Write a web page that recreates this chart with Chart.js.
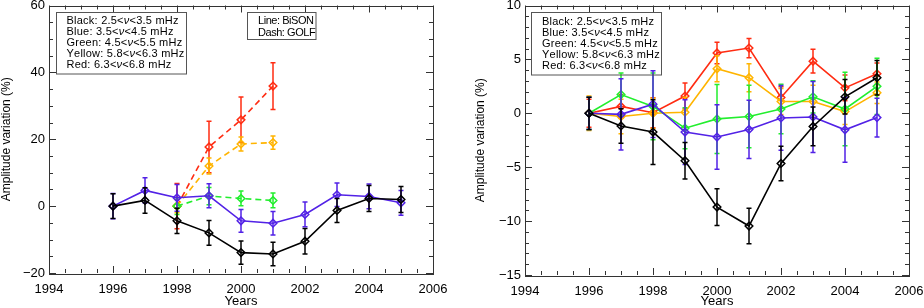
<!DOCTYPE html>
<html>
<head>
<meta charset="utf-8">
<script src="https://cdn.jsdelivr.net/npm/chart.js@4.4.1/dist/chart.umd.min.js"></script>
<style>
html, body { margin: 0; padding: 0; background: #fff; }
#wrap { position: relative; width: 924px; height: 308px; }
canvas { position: absolute; top: 0; }
</style>
</head>
<body>
<div id="wrap">
  <canvas id="leftChart" width="462" height="308" style="left:0"></canvas>
  <canvas id="rightChart" width="462" height="308" style="left:462px"></canvas>
</div>
<script>
// ---- data ----
var years = [1996, 1997, 1998, 1999, 2000, 2001, 2002, 2003, 2004, 2005];
var golfYears = [1998, 1999, 2000, 2001];

// left panel: BiSON (solid) and GOLF (dashed)
var leftBlack     = [0, 1.7, -4.4, -8.0, -13.9, -14.3, -10.5, -1.3, 2.3, 2.0];
var leftBlackErr  = [3.7, 3.8, 3.8, 3.7, 3.5, 3.5, 3.8, 3.6, 3.9, 3.9];
var leftBlue      = [0, 4.7, 2.5, 3.1, -4.4, -5.1, -2.5, 3.4, 2.9, 1.0];
var leftBlueErr   = [3.8, 3.8, 4.0, 3.6, 3.4, 3.5, 3.7, 3.5, 3.7, 3.7];
var golfGreen     = [0, 3.0, 2.3, 1.7];
var golfGreenErr  = [2.5, 2.6, 2.2, 2.2];
var golfYellow    = [0, 12.0, 18.6, 19.0];
var golfYellowErr = [2.0, 2.4, 2.1, 2.0];
var golfRed       = [0, 17.7, 25.8, 35.9];
var golfRedErr    = [6.8, 7.7, 6.8, 7.0];

// right panel
var rightBlack     = [0, -1.17, -1.74, -4.4, -8.7, -10.46, -4.65, -1.22, 1.53, 3.3];
var rightBlackErr  = [1.5, 1.6, 3.0, 1.7, 1.7, 1.65, 1.6, 1.8, 1.6, 1.6];
var rightBlue      = [0, -0.1, 0.85, -1.74, -2.2, -1.5, -0.43, -0.34, -1.53, -0.4];
var rightBlueErr   = [1.5, 3.3, 3.1, 3.0, 3.0, 2.7, 3.0, 3.3, 3.0, 1.8];
var rightGreen     = [0, 1.74, 0.64, -1.38, -0.52, -0.3, 0.4, 1.53, 0.4, 2.5];
var rightGreenErr  = [1.5, 2.0, 3.1, 1.9, 3.2, 2.9, 2.3, 1.5, 3.4, 2.6];
var rightYellow    = [0, -0.3, 0, 0.1, 4.13, 3.3, 1.1, 1.1, 0.16, 1.9];
var rightYellowErr = [1.6, 1.6, 1.4, 1.4, 1.2, 1.3, 1.2, 1.5, 1.2, 1.0];
var rightRed       = [0, 0.64, 0.05, 1.6, 5.6, 6.05, 1.47, 4.83, 2.36, 3.67];
var rightRedErr    = [1.3, 1.1, 1.4, 1.2, 1.0, 0.9, 1.0, 1.1, 1.2, 1.0];

var bandLines = [
    ['Black: 2.5<', 'ν', '<3.5 mHz'],
    ['Blue: 3.5<', 'ν', '<4.5 mHz'],
    ['Green: 4.5<', 'ν', '<5.5 mHz'],
    ['Yellow: 5.8<', 'ν', '<6.3 mHz'],
    ['Red: 6.3<', 'ν', '<6.8 mHz']
];
var instrumentLines = [['Line: BiSON'], ['Dash: GOLF']];

var COLORS = {
    black: '#000000',
    blue: '#5222e6',
    green: '#22ee2e',
    yellow: '#ffb400',
    red: '#ff2c12'
};
var FONT = '"Liberation Sans", Arial, sans-serif';

function points(xs, ys) {
    return xs.map(function (x, i) { return {x: x, y: ys[i]}; });
}

function series(xs, ys, errs, color, dashed) {
    return {
        data: points(xs, ys),
        errors: errs,
        borderColor: color,
        backgroundColor: 'rgba(0,0,0,0)',
        borderWidth: 1.6,
        borderDash: dashed ? [6, 4] : [],
        pointStyle: 'rectRot',
        pointRadius: 3.8,
        pointBorderWidth: 1.5,
        pointBackgroundColor: 'rgba(0,0,0,0)',
        pointBorderColor: color,
        tension: 0
    };
}

// vertical error bars with small caps, drawn under each dataset
var errorBarPlugin = {
    id: 'errorBars',
    beforeDatasetDraw: function (chart, args) {
        var ds = chart.data.datasets[args.index];
        if (!ds.errors) return;
        var ys = chart.scales.y, ctx = chart.ctx;
        ctx.save();
        ctx.strokeStyle = ds.borderColor;
        ctx.lineWidth = 1.5;
        ctx.setLineDash([]);
        ctx.beginPath();
        args.meta.data.forEach(function (pt, i) {
            var v = ds.data[i].y, e = ds.errors[i];
            var top = ys.getPixelForValue(v + e), bot = ys.getPixelForValue(v - e);
            ctx.moveTo(pt.x, top); ctx.lineTo(pt.x, bot);
            ctx.moveTo(pt.x - 2.5, top); ctx.lineTo(pt.x + 2.5, top);
            ctx.moveTo(pt.x - 2.5, bot); ctx.lineTo(pt.x + 2.5, bot);
        });
        ctx.stroke();
        ctx.restore();
    }
};

function isMajor(v, step) {
    return Math.abs(v / step - Math.round(v / step)) < 1e-6;
}

// box frame with inward ticks on all four sides
var framePlugin = {
    id: 'frame',
    afterDraw: function (chart, args, opts) {
        var ctx = chart.ctx, a = chart.chartArea;
        var xs = chart.scales.x, ys = chart.scales.y;
        ctx.save();
        ctx.strokeStyle = '#333';
        ctx.lineWidth = 1;
        ctx.strokeRect(Math.round(a.left) + 0.5, Math.round(a.top) + 0.5,
            Math.round(a.right - a.left), Math.round(a.bottom - a.top));
        ctx.beginPath();
        var v, p, len;
        for (v = xs.min; v <= xs.max + 1e-9; v += opts.xMinor) {
            p = Math.round(xs.getPixelForValue(v)) + 0.5;
            len = isMajor(v, opts.xMajor) ? 7 : 4;
            ctx.moveTo(p, a.bottom); ctx.lineTo(p, a.bottom - len);
            ctx.moveTo(p, a.top); ctx.lineTo(p, a.top + len);
        }
        for (v = ys.min; v <= ys.max + 1e-9; v += opts.yMinor) {
            p = Math.round(ys.getPixelForValue(v)) + 0.5;
            len = isMajor(v, opts.yMajor) ? 7 : 4;
            ctx.moveTo(a.left, p); ctx.lineTo(a.left + len, p);
            ctx.moveTo(a.right, p); ctx.lineTo(a.right - len, p);
        }
        ctx.stroke();
        ctx.restore();
    }
};

function partFont(j) {
    return (j === 1 ? 'italic ' : '') + '11px ' + FONT;
}

function naturalWidth(ctx, parts) {
    var w = 0, n = 0;
    parts.forEach(function (s, j) {
        ctx.font = partFont(j);
        w += ctx.measureText(s).width;
        n += s.length;
    });
    return {w: w, n: n};
}

// framed text boxes (legends); the middle part of each line is an italic nu.
// glyph tracking is chosen so the first line spans b.lineW pixels
var textBoxPlugin = {
    id: 'textBoxes',
    afterDraw: function (chart, args, opts) {
        var ctx = chart.ctx;
        ctx.save();
        opts.boxes.forEach(function (b) {
            ctx.strokeStyle = '#555';
            ctx.lineWidth = 1;
            ctx.strokeRect(b.x, b.y, b.w, b.h);
            ctx.fillStyle = '#000';
            ctx.textAlign = 'left';
            ctx.textBaseline = 'middle';
            var nat = naturalWidth(ctx, b.lines[0]);
            var track = (b.lineW - nat.w) / (nat.n - 1);
            b.lines.forEach(function (parts, i) {
                var x = b.textX, y = b.firstY + i * b.dy;
                parts.forEach(function (s, j) {
                    ctx.font = partFont(j);
                    for (var k = 0; k < s.length; k++) {
                        ctx.fillText(s[k], x, y);
                        x += ctx.measureText(s[k]).width + track;
                    }
                });
            });
        });
        ctx.restore();
    }
};

function makeOptions(cfg) {
    return {
        responsive: false,
        animation: false,
        devicePixelRatio: 1,
        layout: {padding: cfg.padding},
        plugins: {
            legend: {display: false},
            tooltip: {enabled: false},
            frame: cfg.frame,
            textBoxes: {boxes: cfg.boxes}
        },
        scales: {
            x: {
                type: 'linear',
                min: 1994, max: 2006,
                grid: {display: false, drawTicks: false},
                border: {display: false},
                ticks: {
                    stepSize: 2, padding: 9, color: '#000',
                    font: {family: FONT, size: 13},
                    callback: function (v) { return String(v); }
                },
                title: {display: true, text: 'Years', color: '#000',
                    font: {family: FONT, size: 13, lineHeight: 1}, padding: 0},
                afterFit: function (s) { s.height = cfg.xHeight; s.paddingLeft = 0; s.paddingRight = 0; }
            },
            y: {
                type: 'linear',
                min: cfg.yMin, max: cfg.yMax,
                grid: {display: false, drawTicks: false},
                border: {display: false},
                ticks: {
                    stepSize: cfg.yStep, padding: 4, color: '#000',
                    font: {family: FONT, size: 13},
                    callback: function (v) { return String(v).replace('-', '\u2212'); }
                },
                title: {display: true, text: 'Amplitude variation (%)', color: '#000',
                    font: {family: FONT, size: 12, lineHeight: 1},
                    padding: {top: cfg.yTitlePad, bottom: 0}},
                afterFit: function (s) { s.width = cfg.yWidth; s.paddingTop = 0; s.paddingBottom = 0; }
            }
        }
    };
}

var plugins = [errorBarPlugin, framePlugin, textBoxPlugin];

new Chart(document.getElementById('leftChart'), {
    type: 'line',
    data: {
        datasets: [
            series(years, leftBlack, leftBlackErr, COLORS.black, false),
            series(years, leftBlue, leftBlueErr, COLORS.blue, false),
            series(golfYears, golfGreen, golfGreenErr, COLORS.green, true),
            series(golfYears, golfYellow, golfYellowErr, COLORS.yellow, true),
            series(golfYears, golfRed, golfRedErr, COLORS.red, true)
        ]
    },
    options: makeOptions({
        padding: {top: 2, right: 29, bottom: 0, left: 0},
        xHeight: 35, yWidth: 49, yTitlePad: 1,
        yMin: -20, yMax: 60, yStep: 20,
        frame: {xMinor: 0.5, xMajor: 2, yMinor: 5, yMajor: 20},
        boxes: [
            {x: 56.5, y: 12.5, w: 130, h: 61.5, textX: 66.5, firstY: 21, dy: 11.1, lineW: 112, lines: bandLines},
            {x: 247.5, y: 12.5, w: 68.5, h: 27, textX: 258, firstY: 21, dy: 11.8, lineW: 56, lines: instrumentLines}
        ]
    }),
    plugins: plugins
});

new Chart(document.getElementById('rightChart'), {
    type: 'line',
    data: {
        datasets: [
            series(years, rightBlack, rightBlackErr, COLORS.black, false),
            series(years, rightBlue, rightBlueErr, COLORS.blue, false),
            series(years, rightGreen, rightGreenErr, COLORS.green, false),
            series(years, rightYellow, rightYellowErr, COLORS.yellow, false),
            series(years, rightRed, rightRedErr, COLORS.red, false)
        ]
    },
    options: makeOptions({
        padding: {top: 4, right: 15, bottom: 0, left: 0},
        xHeight: 33, yWidth: 63, yTitlePad: 13,
        yMin: -15, yMax: 10, yStep: 5,
        frame: {xMinor: 0.5, xMajor: 2, yMinor: 1, yMajor: 5},
        boxes: [
            {x: 69.5, y: 12.5, w: 130, h: 62.5, textX: 80, firstY: 21.7, dy: 11.15, lineW: 112, lines: bandLines}
        ]
    }),
    plugins: plugins
});
</script>
</body>
</html>
